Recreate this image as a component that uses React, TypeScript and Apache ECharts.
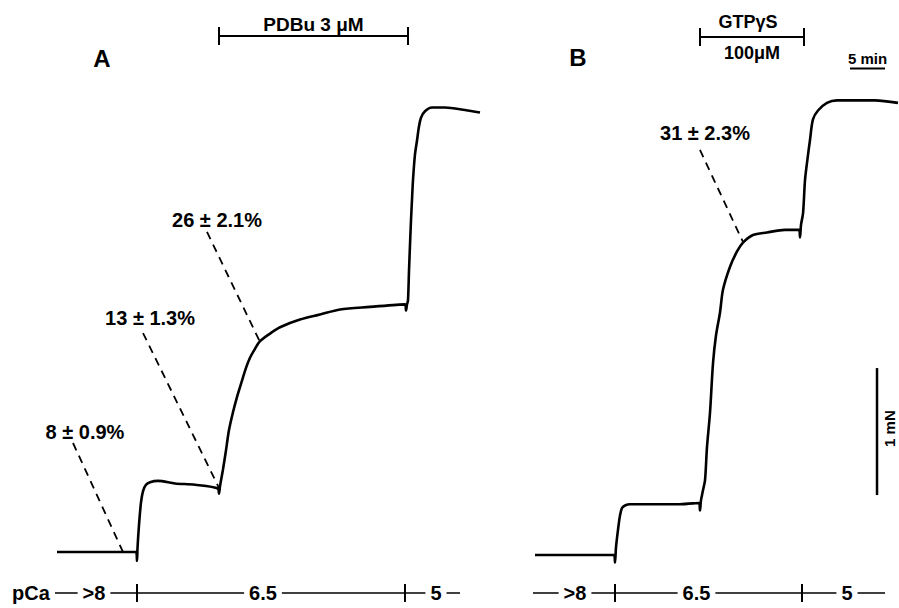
import React, { useEffect, useRef } from 'react';
import * as echarts from 'echarts';

// ---- Panel A trace: time (min) vs force (mN above resting level) ----
const timeA = [0, 6.14, 11.29, 11.43, 11.5, 11.71, 12.0, 12.29, 12.71, 13.29, 14.43, 16.86, 19.71, 23.0, 23.14, 23.29, 23.71, 24.14, 24.57, 25.14, 25.71, 26.43, 27.0, 27.57, 28.29, 29.0, 30.43, 31.86, 34.71, 37.57, 40.43, 44.71, 49.71, 49.86, 50.0, 50.14, 50.29, 50.43, 50.57, 50.71, 50.86, 51.14, 51.43, 51.71, 52.0, 52.57, 53.57, 55.43, 58.29, 60.43];
const forceA = [0, 0, 0, -0.07, 0.03, 0.21, 0.39, 0.48, 0.53, 0.55, 0.56, 0.54, 0.53, 0.5, 0.46, 0.52, 0.65, 0.8, 0.96, 1.1, 1.22, 1.35, 1.45, 1.53, 1.6, 1.66, 1.72, 1.77, 1.83, 1.87, 1.91, 1.93, 1.95, 1.9, 1.95, 1.98, 2.22, 2.42, 2.61, 2.77, 2.93, 3.13, 3.24, 3.35, 3.42, 3.47, 3.5, 3.5, 3.48, 3.46];

// ---- Panel B trace ----
const timeB = [0, 6.43, 11.29, 11.43, 11.57, 11.86, 12.14, 12.43, 12.86, 13.57, 16.43, 20.71, 23.43, 23.57, 23.71, 24.0, 24.29, 24.57, 25.0, 25.43, 25.86, 26.43, 26.86, 27.86, 28.86, 29.71, 31.14, 33.14, 35.71, 37.71, 37.86, 38.0, 38.29, 38.57, 38.86, 39.29, 39.71, 40.43, 41.71, 43.14, 45.43, 48.57, 51.86];
const forceB = [0, 0, 0, -0.06, 0.06, 0.2, 0.31, 0.37, 0.39, 0.4, 0.4, 0.4, 0.41, 0.35, 0.43, 0.51, 0.59, 0.85, 1.12, 1.51, 1.73, 1.91, 2.09, 2.27, 2.39, 2.46, 2.52, 2.54, 2.56, 2.56, 2.5, 2.6, 2.69, 2.95, 3.09, 3.27, 3.43, 3.5, 3.56, 3.58, 3.58, 3.58, 3.56];

// ---- pCa solution changes (min) and labels ----
const pCaLabels = ['>8', '6.5', '5'];
const pCaChangeA = [11.43, 49.71];
const pCaChangeB = [11.43, 38.14];

// ---- Drug applications (min) ----
const drugWindowA = [23.14, 50.14];
const drugWindowB = [23.57, 38.43];
const drugLabelA = ['PDBu 3 μM'];
const drugLabelB = ['GTPγS', '100μM'];

// ---- Annotations: text, panel, point on trace (min, mN) ----
const annotationTexts = ['8 ± 0.9%', '13 ± 1.3%', '26 ± 2.1%', '31 ± 2.3%'];
const annotationPanel = [0, 0, 0, 1];
const annotationTime = [9.43, 23.29, 29.0, 29.71];
const annotationForce = [0, 0.488, 1.654, 2.465];

// ---- Scale bars ----
const timeBarMin = [45, 50];
const forceBarMN = [0.472, 1.472];
const forceBarTime = 48.86;

// ---- layout (pixels) ----
const annLabelOffset = [[-38, -120], [-70, -172], [-43, -122], [-38, -109]];
const annLineOffset = [[-50, -109], [-77, -157], [-53, -110], [-43, -92]];
const pCaLabelOffsets = [[-43, -8, 31], [-40, -12, 45]];
const rowY = 593;
const rowSpans = [[55, 460], [533, 885]];
const FONT = '"Liberation Sans", Arial, Helvetica, sans-serif';

export default function App() {
  const ref = useRef<HTMLDivElement>(null);

  useEffect(() => {
    if (!ref.current) return;
    const chart = echarts.init(ref.current, null, { renderer: 'svg' });
    const H = 4.3 * 127;
    chart.setOption({
      animation: false,
      backgroundColor: '#fff',
      grid: [
        { left: 57, top: 44, width: 62 * 7, height: H },
        { left: 535, top: 47, width: 52 * 7, height: H },
      ],
      xAxis: [
        { type: 'value', gridIndex: 0, min: 0, max: 62, show: false },
        { type: 'value', gridIndex: 1, min: 0, max: 52, show: false },
      ],
      yAxis: [
        { type: 'value', gridIndex: 0, min: -0.3, max: 4, show: false },
        { type: 'value', gridIndex: 1, min: -0.3, max: 4, show: false },
      ],
      series: [
        {
          type: 'line', xAxisIndex: 0, yAxisIndex: 0, showSymbol: false, symbol: 'none',
          smooth: 0.3,
          data: timeA.map((t, i) => [t, forceA[i]]),
          lineStyle: { color: '#000', width: 2.6 }, silent: true,
        },
        {
          type: 'line', xAxisIndex: 1, yAxisIndex: 1, showSymbol: false, symbol: 'none',
          smooth: 0.3,
          data: timeB.map((t, i) => [t, forceB[i]]),
          lineStyle: { color: '#000', width: 2.6 }, silent: true,
        },
      ],
    });

    const p = (g: number, x: number, y: number) =>
      chart.convertToPixel({ gridIndex: g } as any, [x, y]) as number[];

    const txt = (text: string, x: number, y: number, size: number, extra: any = {}, rotation = 0) => ({
      type: 'text', x, y, rotation, z: 10,
      style: {
        text, fill: '#000', fontSize: size, fontWeight: 'bold', fontFamily: FONT,
        align: 'center', verticalAlign: 'middle', ...extra,
      },
    });
    const ln = (x1: number, y1: number, x2: number, y2: number, w = 2, dash?: number[]) => ({
      type: 'line', z: 5,
      shape: { x1, y1, x2, y2 },
      style: { stroke: '#000', lineWidth: w, lineDash: dash },
    });

    const g: any[] = [];

    // panel letters
    g.push(txt('A', 102, 58, 24));
    g.push(txt('B', 578, 57, 24));

    // drug brackets
    const bracket = (gi: number, win: number[], y: number) => {
      const xa = p(gi, win[0], 0)[0];
      const xb = p(gi, win[1], 0)[0];
      g.push(ln(xa, y, xb, y, 2));
      g.push(ln(xa, y - 9, xa, y + 9, 2));
      g.push(ln(xb, y - 9, xb, y + 9, 2));
      return (xa + xb) / 2;
    };
    const mA = bracket(0, drugWindowA, 36);
    g.push(txt(drugLabelA[0], mA, 24, 19));
    const mB = bracket(1, drugWindowB, 37);
    g.push(txt(drugLabelB[0], mB - 4, 22, 18));
    g.push(txt(drugLabelB[1], mB, 53, 18));

    // 5 min scale bar
    const t0 = p(1, timeBarMin[0], 3.83);
    const t1 = p(1, timeBarMin[1], 3.83);
    g.push(ln(t0[0], t0[1], t1[0], t1[1], 2));
    g.push(txt('5 min', (t0[0] + t1[0]) / 2, 58, 15));

    // 1 mN scale bar
    const f0 = p(1, forceBarTime, forceBarMN[0]);
    const f1 = p(1, forceBarTime, forceBarMN[1]);
    g.push(ln(f0[0], f0[1], f1[0], f1[1], 2.5));
    g.push(txt('1 mN', f0[0] + 12, (f0[1] + f1[1]) / 2 - 3, 15, {}, Math.PI / 2));

    // annotations
    annotationTexts.forEach((s, i) => {
      const tp = p(annotationPanel[i], annotationTime[i], annotationForce[i]);
      const lo = annLabelOffset[i];
      const lso = annLineOffset[i];
      g.push(ln(tp[0] + lso[0], tp[1] + lso[1], tp[0], tp[1], 1.8, [8, 6]));
      g.push(txt(s, tp[0] + lo[0], tp[1] + lo[1], 20));
    });

    // pCa row
    g.push(txt('pCa', 31, rowY, 20));
    [pCaChangeA, pCaChangeB].forEach((chg, gi) => {
      const span = rowSpans[gi];
      g.push(ln(span[0], rowY, span[1], rowY, 1.5));
      const xs = chg.map((c) => p(gi, c, 0)[0]);
      xs.forEach((x) => g.push(ln(x, rowY - 9, x, rowY + 9, 2)));
      const off = pCaLabelOffsets[gi];
      const pos = [xs[0] + off[0], (xs[0] + xs[1]) / 2 + off[1], xs[1] + off[2]];
      pCaLabels.forEach((l, k) => {
        g.push(txt(l, pos[k], rowY, 20, { backgroundColor: '#fff', padding: [0, 5] }));
      });
    });

    chart.setOption({ graphic: g });
    return () => chart.dispose();
  }, []);

  return (
    <div
      ref={ref}
      style={{ position: 'fixed', left: 0, top: 0, width: 899, height: 608, background: '#fff' }}
    />
  );
}
